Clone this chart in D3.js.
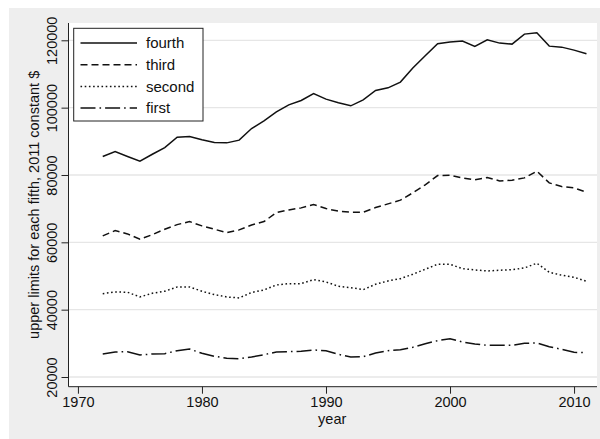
<!DOCTYPE html>
<html>
<head>
<meta charset="utf-8">
<script src="https://d3js.org/d3.v7.min.js"></script>
<style>
  body { margin: 0; background: #fff; }
  text { font-family: "Liberation Sans", Arial, sans-serif; fill: #111; }
</style>
</head>
<body>
<div id="content"></div>
<script>
// years 1972 - 2011
var years = d3.range(1972, 2012);

// upper limits for each fifth, 2011 constant $
var fourth = [85470, 86960, 85500, 84100, 86150, 88150, 91240, 91420, 90440, 89630,
    89540, 90340, 93800, 96080, 98760, 100840, 102120, 104200, 102530, 101430,
    100540, 102320, 105090, 105890, 107590, 111750, 115400, 118970, 119470, 119770,
    118180, 120160, 119170, 118870, 121840, 122230, 118270, 117970, 117080, 115990];
var third = [61900, 63490, 62500, 60920, 62290, 63890, 65260, 66160, 64880, 63890,
    62890, 63690, 65130, 66160, 68830, 69630, 70230, 71210, 70020, 69250,
    68950, 68950, 70320, 71420, 72520, 74700, 77060, 79830, 79940, 79140,
    78550, 79240, 78250, 78450, 79140, 81130, 77660, 76560, 76170, 74890];
var second = [44760, 45260, 45170, 43780, 44880, 45470, 46750, 46750, 45470, 44460,
    43780, 43480, 45100, 45860, 47340, 47730, 47730, 48920, 48230, 46950,
    46540, 45940, 47550, 48530, 49210, 50520, 52000, 53490, 53490, 52190,
    51800, 51500, 51710, 51890, 52390, 53790, 51120, 50230, 49630, 48440];
var first = [26840, 27430, 27520, 26540, 26840, 26930, 27820, 28320, 27040, 26150,
    25560, 25440, 25940, 26630, 27430, 27520, 27640, 28020, 27820, 26730,
    25940, 26030, 27130, 27820, 28110, 28830, 29900, 30790, 31380, 30400,
    29810, 29420, 29420, 29420, 30020, 30100, 29010, 28230, 27340, 27220];

var xTicks = [1970, 1980, 1990, 2000, 2010];
var yTicks = [20000, 40000, 60000, 80000, 100000, 120000];

var seriesNames = ['fourth', 'third', 'second', 'first'];
var seriesValues = [fourth, third, second, first];
var dashes = [null, '7,4', '1.6,2.6', '15,4,1.6,4'];

var W = 600, H = 439;
var svg = d3.select('#content').append('svg')
    .attr('width', W)
    .attr('height', H);

// graph region
svg.append('rect').attr('x', 9).attr('y', 8).attr('width', W - 9).attr('height', H - 8)
    .attr('fill', '#eeeeee');

// plot region edges (don't call it "top": window.top is read-only)
var pLeft = 68.5, pRight = 597, pTop = 23, pBottom = 386.7;

svg.append('rect').attr('x', pLeft).attr('y', pTop)
    .attr('width', pRight - pLeft).attr('height', pBottom - pTop)
    .attr('fill', '#fff');

var x = d3.scaleLinear().domain([1969.24, 2011.85]).range([pLeft, pRight]);
var y = d3.scaleLinear().domain([17120, 125140]).range([pBottom, pTop]);

// grid lines
svg.append('g').selectAll('line').data(yTicks).enter().append('line')
    .attr('x1', pLeft).attr('x2', pRight)
    .attr('y1', function(d) { return y(d); })
    .attr('y2', function(d) { return y(d); })
    .attr('stroke', '#e6e6e6').attr('stroke-width', 1.3);

// axes
var yAxis = d3.axisLeft(y).tickValues(yTicks).tickSize(7).tickPadding(4)
    .tickFormat(d3.format('d'));
var gy = svg.append('g').attr('transform', 'translate(' + pLeft + ',0)').call(yAxis);
gy.select('.domain').attr('stroke', '#222').attr('d', 'M0,' + pTop + 'V' + pBottom);
gy.selectAll('.tick line').attr('stroke', '#222');
gy.selectAll('.tick text')
    .attr('font-size', 14.5)
    .attr('transform', 'rotate(-90)')
    .attr('x', 0).attr('y', -12)
    .attr('dy', 0)
    .attr('text-anchor', 'middle');

var xAxis = d3.axisBottom(x).tickValues(xTicks).tickSize(7).tickPadding(3)
    .tickFormat(d3.format('d'));
var gx = svg.append('g').attr('transform', 'translate(0,' + pBottom + ')').call(xAxis);
gx.select('.domain').attr('stroke', '#222').attr('d', 'M' + pLeft + ',0H' + pRight);
gx.selectAll('.tick line').attr('stroke', '#222');
gx.selectAll('.tick text').attr('font-size', 14.5);

svg.selectAll('.tick text').style('font-family', '"Liberation Sans", Arial, sans-serif').attr('fill', '#111');

// axis titles
svg.append('text')
    .attr('transform', 'translate(39,' + ((pTop + pBottom) / 2) + ') rotate(-90)')
    .attr('text-anchor', 'middle')
    .attr('font-size', 14.5)
    .text('upper limits for each fifth, 2011 constant $');

svg.append('text')
    .attr('x', x(1990.5)).attr('y', 424)
    .attr('text-anchor', 'middle')
    .attr('font-size', 14.5)
    .text('year');

// lines
var line = d3.line()
    .x(function(d, i) { return x(years[i]); })
    .y(function(d) { return y(d); });

svg.append('g').selectAll('path').data(seriesValues).enter().append('path')
    .attr('d', line)
    .attr('fill', 'none')
    .attr('stroke', '#111')
    .attr('stroke-width', 1.5)
    .attr('stroke-dasharray', function(d, i) { return dashes[i]; });

// legend
var lg = svg.append('g');
lg.append('rect').attr('x', 73.7).attr('y', 28.3).attr('width', 129.3).attr('height', 92.7)
    .attr('fill', '#fff').attr('stroke', '#222').attr('stroke-width', 1);

var items = lg.selectAll('g.item').data(seriesNames).enter().append('g')
    .attr('transform', function(d, i) { return 'translate(0,' + (43 + i * 21.7) + ')'; });
items.append('line')
    .attr('x1', 80.5).attr('x2', 137)
    .attr('stroke', '#111').attr('stroke-width', 1.5)
    .attr('stroke-dasharray', function(d, i) { return dashes[i]; });
items.append('text')
    .attr('x', 146).attr('dy', '0.35em')
    .attr('font-size', 15)
    .text(function(d) { return d; });
</script>
</body>
</html>
